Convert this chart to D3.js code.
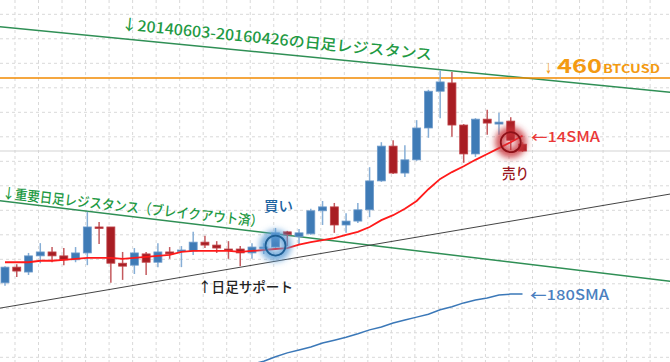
<!DOCTYPE html>
<html>
<head>
<meta charset="utf-8">
<script src="https://cdn.jsdelivr.net/npm/d3@7/dist/d3.min.js"></script>
<style>
	body { margin: 0; background: #fff; }
	svg { display: block; }
	text { font-family: "Noto Sans CJK JP", "Noto Sans", sans-serif; }
</style>
</head>
<body>
<div id="chart"></div>
<script>
'use strict';

//Candle data (BTCUSD), one entry per bar
var opens  = [418.2,421.4,420.4,423.7,424.5,423.7,422.9,424.3,429.6,429.6,422.2,421.8,424.1,422.4,424.5,424.7,424.7,426.5,425.9,425.1,425.1,424.3,425.3,425.5,428.6,427.6,428.2,432.9,433.7,430.0,430.8,433.1,439.0,446.1,440.6,443.3,449.8,457.3,459.0,450.4,444.5,451.6,450.6,451.2,446.5];
var highs  = [421.6,422.0,424.3,426.3,425.5,425.3,425.5,432.7,430.6,429.6,424.5,425.3,424.5,426.3,425.5,425.7,428.6,427.8,426.7,426.7,425.7,426.3,426.3,429.4,428.8,429.2,433.3,434.9,434.5,432.4,434.5,441.8,446.9,447.3,446.3,451.4,457.6,461.6,461.2,450.6,451.8,453.5,452.9,452.0,446.9];
var lows   = [417.6,419.4,419.8,422.2,422.4,421.8,422.4,421.8,426.1,418.2,418.8,420.0,419.8,421.4,423.1,421.4,423.9,425.3,424.3,423.1,421.6,423.1,424.1,425.3,425.7,425.9,428.0,430.0,428.4,428.4,430.4,431.6,438.8,440.4,439.8,443.1,447.8,451.8,448.0,442.7,443.9,448.4,448.4,445.3,444.9];
var closes = [421.4,420.6,423.7,424.5,423.7,422.9,424.3,429.6,429.4,422.2,421.6,424.3,422.4,424.5,424.1,424.9,426.5,425.9,425.3,424.9,424.3,425.5,425.5,428.4,428.0,428.4,432.9,433.7,430.0,430.8,433.1,439.0,446.1,440.6,443.3,449.8,457.3,459.2,450.4,444.5,451.6,450.8,451.0,447.3,445.1];

//Moving averages
var sma14 = [422.4,422.4,422.4,422.7,422.7,422.9,423.1,423.3,423.3,423.3,423.1,423.3,423.5,423.7,423.9,424.5,424.7,424.7,424.7,424.7,424.5,424.7,424.9,425.1,425.3,426.0,426.5,426.9,427.3,428.0,428.6,429.6,431.0,432.0,433.3,434.9,437.3,439.4,440.8,442.0,443.3,444.5,445.7,446.9,448.2];
var sma180Start = 21;
var sma180 = [401.6,402.2,403.1,403.9,404.5,405.1,405.9,406.5,407.1,407.8,408.6,409.2,410.0,410.6,411.2,411.8,412.7,413.3,414.1,414.7,415.1,415.7,415.9,415.9];

//Lines drawn on the chart: [bar index, price]
var longResistance = [[-1, 470.6], [57, 457.0]];
var keyResistance  = [[-1, 435.1], [57, 418.4]];
var dailySupport   = [[-1, 412.8], [57, 436.5]];
var resistanceLevel = 460;
var lastLevel = 445.1;

//Signals
var buySignal  = {index: 23, price: 425.8};
var sellSignal = {index: 43, price: 446.9};

//Grid
var gridPrices = [473,468,463,458,453,448,443,438,433,428,423,418,413,408,403];
var gridBars = d3.range(0.85, 58, 2);

var width = 670, height = 362;

var x = d3.scaleLinear().domain([0, 44]).range([5, 522.5]);
var y = d3.scaleLinear().domain([400, 480]).range([78 + 60 * 4.9, 78 - 20 * 4.9]);

var svg = d3.select('#chart').append('svg')
	.attr('width', width)
	.attr('height', height);

var defs = svg.append('defs');
var glow = defs.append('filter').attr('id', 'glow')
	.attr('x', '-80%').attr('y', '-80%').attr('width', '260%').attr('height', '260%');
glow.append('feGaussianBlur').attr('stdDeviation', 3);

//Grid
svg.append('g').selectAll('line')
	.data(gridPrices).enter().append('line')
	.attr('x1', 0).attr('x2', width)
	.attr('y1', function(d) { return y(d); })
	.attr('y2', function(d) { return y(d); })
	.attr('stroke', '#d9d9d9').attr('stroke-dasharray', '3,3');
svg.append('g').selectAll('line')
	.data(gridBars).enter().append('line')
	.attr('y1', 0).attr('y2', height)
	.attr('x1', function(d) { return x(d); })
	.attr('x2', function(d) { return x(d); })
	.attr('stroke', '#d9d9d9').attr('stroke-dasharray', '3,3');

//Current level line
svg.append('line')
	.attr('x1', 0).attr('x2', width)
	.attr('y1', y(lastLevel)).attr('y2', y(lastLevel))
	.attr('stroke', '#d4d4d4').attr('stroke-width', 1.2);

//Trend lines
var trend = d3.line()
	.x(function(d) { return x(d[0]); })
	.y(function(d) { return y(d[1]); });
svg.append('path').datum(longResistance).attr('d', trend)
	.attr('stroke', '#2f8f55').attr('stroke-width', 1.5).attr('fill', 'none');
svg.append('path').datum(keyResistance).attr('d', trend)
	.attr('stroke', '#2f8f55').attr('stroke-width', 1.5).attr('fill', 'none');
svg.append('path').datum(dailySupport).attr('d', trend)
	.attr('stroke', '#444').attr('stroke-width', 1).attr('fill', 'none');

//Resistance level
svg.append('line')
	.attr('x1', 0).attr('x2', width)
	.attr('y1', y(resistanceLevel)).attr('y2', y(resistanceLevel))
	.attr('stroke', '#f28a00').attr('stroke-width', 1.5);

//180 SMA
svg.append('path')
	.datum(sma180)
	.attr('d', d3.line()
		.x(function(d, i) { return x(i + sma180Start); })
		.y(function(d) { return y(d); }))
	.attr('stroke', '#3b78b8').attr('stroke-width', 1.5).attr('fill', 'none');

//Candles
var bars = d3.range(opens.length);
var up = function(i) { return closes[i] >= opens[i]; };
var candles = svg.append('g').selectAll('g')
	.data(bars).enter().append('g');
candles.append('line')
	.attr('x1', function(i) { return x(i); })
	.attr('x2', function(i) { return x(i); })
	.attr('y1', function(i) { return y(highs[i]); })
	.attr('y2', function(i) { return y(lows[i]); })
	.attr('stroke', function(i) { return up(i) ? '#86aed6' : '#c45a5e'; })
	.attr('stroke-width', 1.5);
candles.append('rect')
	.attr('x', function(i) { return x(i) - 4; })
	.attr('width', 8)
	.attr('y', function(i) { return y(Math.max(opens[i], closes[i])); })
	.attr('height', function(i) { return Math.max(1.5, Math.abs(y(opens[i]) - y(closes[i]))); })
	.attr('fill', function(i) { return up(i) ? '#3f7bb6' : '#a81d23'; })
	.attr('stroke', function(i) { return up(i) ? '#6f9ccb' : '#c0464b'; })
	.attr('stroke-width', 0.8);

//14 SMA
svg.append('path')
	.datum(sma14)
	.attr('d', d3.line()
		.x(function(d, i) { return x(i); })
		.y(function(d) { return y(d); }))
	.attr('stroke', '#ff1a1a').attr('stroke-width', 1.8).attr('fill', 'none');

//Signal markers: soft halo plus a thin ring
function marker(sig, col, haloCol) {
	var cx = x(sig.index), cy = y(sig.price);
	svg.append('circle').attr('cx', cx).attr('cy', cy).attr('r', 11)
		.attr('fill', haloCol).attr('fill-opacity', 0.15)
		.attr('stroke', haloCol).attr('stroke-width', 9).attr('stroke-opacity', 0.85)
		.attr('filter', 'url(#glow)');
	svg.append('circle').attr('cx', cx).attr('cy', cy).attr('r', 10)
		.attr('fill', 'none')
		.attr('stroke', col).attr('stroke-width', 1.8);
}
marker(buySignal, '#1f5f95', '#5b9bd5');
marker(sellSignal, '#8e1118', '#c8323a');

//Labels
function label(txt, tx, ty, size, col, len, rot) {
	var t = svg.append('text')
		.attr('transform', 'translate(' + tx + ',' + ty + ')' + (rot ? ' rotate(' + rot + ')' : ''))
		.attr('font-size', size).attr('fill', col).attr('font-weight', 500)
		.text(txt);
	if (len) t.attr('textLength', len).attr('lengthAdjust', 'spacingAndGlyphs');
	return t;
}
label('↓20140603-20160426の日足レジスタンス', 121, 29.5, 15, '#1f9a44', 312, 5.6);
label('↓重要日足レジスタンス（ブレイクアウト済）', 2, 198, 14, '#1f9a44', 262, 6.3);
label('↑日足サポート', 198, 292, 14, '#222', 95);
label('買い', 264, 211, 14, '#1c63a0', 29);
label('売り', 502, 179, 15, '#9a161d', 27);
label('←14SMA', 531, 142, 14, '#ea3838', 69);
label('←180SMA', 530, 300, 14, '#4a7fbf', 79);

//Resistance price tag
label('↓', 545, 73, 12, '#f39a12', 7);
var lvl = svg.append('text').attr('x', 557).attr('y', 73).attr('fill', '#f39a12').attr('font-weight', 'bold');
lvl.append('tspan').attr('font-size', 19).attr('textLength', 45).attr('lengthAdjust', 'spacingAndGlyphs').text('460');
lvl.append('tspan').attr('x', 603).attr('font-size', 11).attr('textLength', 57).attr('lengthAdjust', 'spacingAndGlyphs').text('BTCUSD');
</script>
</body>
</html>
